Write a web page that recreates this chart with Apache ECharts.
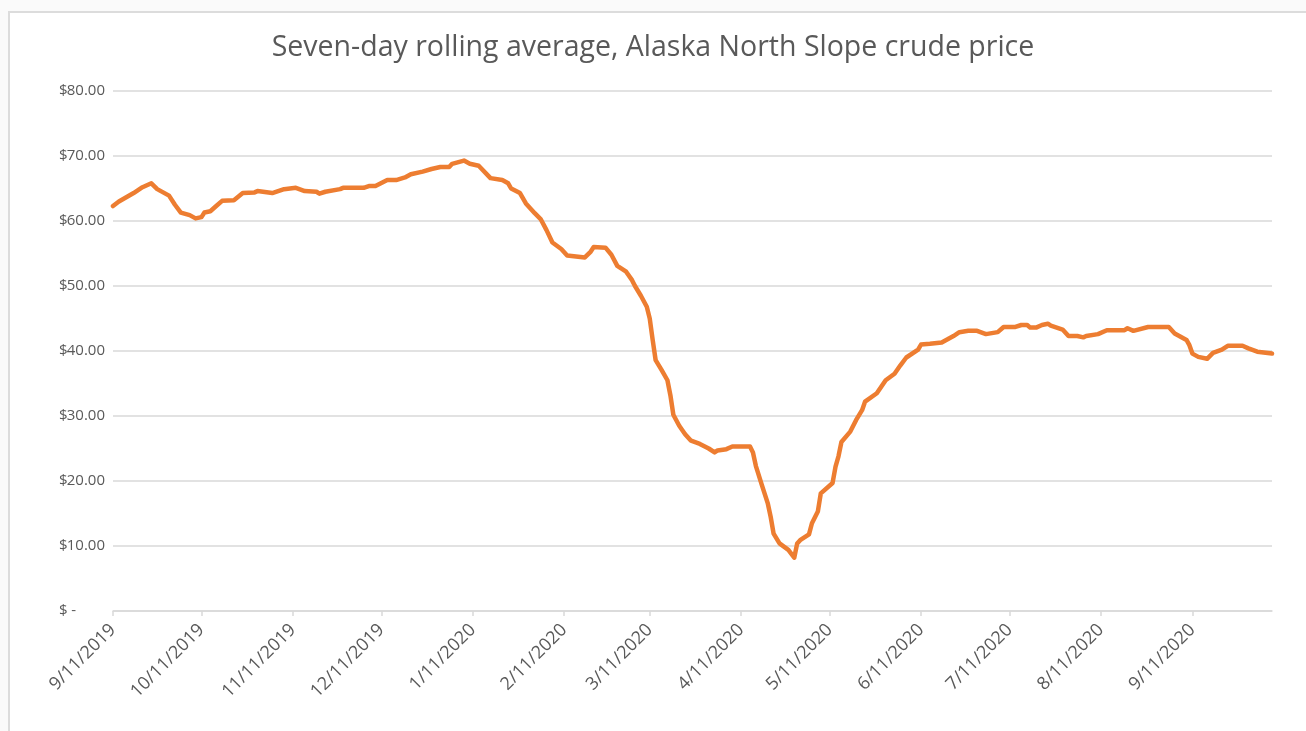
<!DOCTYPE html>
<html>
<head>
<meta charset="utf-8">
<script src="https://cdn.jsdelivr.net/npm/echarts@6/dist/echarts.min.js"></script>
<style>
  html, body { margin: 0; padding: 0; background: #fafafa; }
  #frame { position: absolute; left: 8px; top: 11px; width: 1310px; height: 730px;
           background: #ffffff; border-left: 2px solid #dcdcdc; border-top: 2px solid #dcdcdc; }
  #chart { position: absolute; left: 0; top: 0; width: 1306px; height: 731px; }
</style>
</head>
<body>
<div id="frame"></div>
<div id="chart"></div>
<script>
// Seven-day rolling average, Alaska North Slope crude price
const dates = [
  '2019-09-11','2019-09-13','2019-09-18','2019-09-21','2019-09-24','2019-09-26','2019-09-30',
  '2019-10-02','2019-10-04','2019-10-07','2019-10-09','2019-10-11','2019-10-12','2019-10-14',
  '2019-10-16','2019-10-18','2019-10-22','2019-10-25','2019-10-29','2019-10-30',
  '2019-11-04','2019-11-08','2019-11-12','2019-11-15','2019-11-19','2019-11-20','2019-11-22',
  '2019-11-27','2019-11-28',
  '2019-12-05','2019-12-07','2019-12-09','2019-12-13','2019-12-16','2019-12-19','2019-12-21',
  '2019-12-25','2019-12-28','2019-12-31',
  '2020-01-03','2020-01-04','2020-01-08','2020-01-10','2020-01-13','2020-01-17','2020-01-21',
  '2020-01-23','2020-01-24','2020-01-27','2020-01-29',
  '2020-02-01','2020-02-03','2020-02-05','2020-02-07','2020-02-10','2020-02-12','2020-02-18',
  '2020-02-20','2020-02-21','2020-02-25','2020-02-27','2020-02-29',
  '2020-03-03','2020-03-05','2020-03-06','2020-03-08','2020-03-10','2020-03-11','2020-03-12',
  '2020-03-13','2020-03-15','2020-03-17','2020-03-18','2020-03-19','2020-03-21','2020-03-23',
  '2020-03-25','2020-03-28','2020-03-31',
  '2020-04-02','2020-04-03','2020-04-06','2020-04-08','2020-04-14','2020-04-15','2020-04-16',
  '2020-04-18','2020-04-20','2020-04-21','2020-04-22','2020-04-24','2020-04-27','2020-04-29',
  '2020-04-30',
  '2020-05-01','2020-05-04','2020-05-05','2020-05-07','2020-05-08','2020-05-12','2020-05-13',
  '2020-05-14','2020-05-15','2020-05-18','2020-05-20','2020-05-22','2020-05-23','2020-05-27',
  '2020-05-30',
  '2020-06-02','2020-06-04','2020-06-06','2020-06-10','2020-06-11','2020-06-14','2020-06-18',
  '2020-06-22','2020-06-24','2020-06-27','2020-06-30',
  '2020-07-03','2020-07-07','2020-07-09','2020-07-13','2020-07-15','2020-07-17','2020-07-18',
  '2020-07-20','2020-07-22','2020-07-24','2020-07-25','2020-07-29','2020-07-31',
  '2020-08-03','2020-08-05','2020-08-06','2020-08-10','2020-08-13','2020-08-19','2020-08-20',
  '2020-08-22','2020-08-27',
  '2020-09-03','2020-09-05','2020-09-09','2020-09-10','2020-09-11','2020-09-13','2020-09-16',
  '2020-09-18','2020-09-21','2020-09-23','2020-09-28','2020-09-30',
  '2020-10-03','2020-10-08'
];
const prices = [
  62.3, 63.0, 64.3, 65.2, 65.8, 64.9, 63.9,
  62.5, 61.3, 60.9, 60.4, 60.6, 61.3, 61.5,
  62.3, 63.1, 63.2, 64.3, 64.4, 64.6,
  64.3, 64.9, 65.1, 64.6, 64.5, 64.2, 64.5,
  64.9, 65.1,
  65.1, 65.4, 65.4, 66.3, 66.3, 66.7, 67.2,
  67.6, 68.0, 68.3,
  68.3, 68.8, 69.3, 68.8, 68.5, 66.6, 66.3,
  65.8, 65.0, 64.3, 62.7,
  61.2, 60.3, 58.6, 56.7, 55.7, 54.7, 54.4,
  55.3, 56.0, 55.9, 54.8, 53.1,
  52.2, 50.9, 50.0, 48.5, 46.8, 45.0, 41.7,
  38.6, 37.1, 35.5, 33.2, 30.2, 28.5, 27.2,
  26.2, 25.7, 25.0,
  24.4, 24.7, 24.9, 25.3, 25.3, 24.4, 22.3,
  19.4, 16.6, 14.5, 11.9, 10.4, 9.4, 8.2,
  10.4,
  10.9, 11.8, 13.5, 15.3, 18.1, 19.7, 22.2,
  23.8, 26.0, 27.6, 29.4, 30.9, 32.2, 33.5,
  35.5,
  36.5, 37.8, 39.0, 40.2, 41.0, 41.1, 41.3,
  42.3, 42.9, 43.1, 43.1,
  42.6, 42.9, 43.7, 43.7, 44.0, 44.0, 43.6,
  43.6, 44.0, 44.2, 43.9, 43.3, 42.3,
  42.3, 42.1, 42.3, 42.6, 43.2, 43.2, 43.5,
  43.1, 43.7,
  43.7, 42.7, 41.7, 40.9, 39.6, 39.1, 38.8,
  39.7, 40.2, 40.8, 40.8, 40.4,
  39.9, 39.6
];
// Tick labels: the 11th of each month
const tickDates = [
  '2019-09-11','2019-10-11','2019-11-11','2019-12-11','2020-01-11','2020-02-11','2020-03-11',
  '2020-04-11','2020-05-11','2020-06-11','2020-07-11','2020-08-11','2020-09-11'
];
const axisStart = '2019-09-11';
const axisEnd = '2020-10-08';
const titleText = 'Seven-day rolling average, Alaska North Slope crude price';

function toTime(s) {
  const p = s.split('-').map(Number);
  return new Date(p[0], p[1] - 1, p[2]).getTime();
}
const tickTimes = tickDates.map(toTime);
const seriesData = dates.map((d, i) => [toTime(d), prices[i]]);

const chart = echarts.init(document.getElementById('chart'), null, { renderer: 'canvas' });
const textColor = '#595959';
const gridColor = '#d9d9d9';
chart.setOption({
  backgroundColor: 'transparent',
  animation: false,
  title: {
    text: titleText,
    left: 'center',
    top: 28,
    textStyle: { color: textColor, fontSize: 28.5, fontWeight: 'normal', fontFamily: 'Open Sans' }
  },
  grid: { left: 113, right: 34, top: 91, bottom: 120, containLabel: false },
  xAxis: {
    type: 'value',
    min: toTime(axisStart),
    max: toTime(axisEnd),
    splitLine: { show: false },
    axisLine: { show: true, onZero: false, lineStyle: { color: gridColor, width: 1.5 } },
    axisTick: { show: true, customValues: tickTimes, length: 5, lineStyle: { color: gridColor, width: 1.5 } },
    minorTick: { show: false },
    axisLabel: {
      customValues: tickTimes,
      rotate: 45,
      margin: 16,
      color: textColor,
      fontSize: 18,
      fontFamily: 'Open Sans',
      showMinLabel: true,
      showMaxLabel: true,
      formatter: function (v) {
        const d = new Date(v);
        return (d.getMonth() + 1) + '/' + d.getDate() + '/' + d.getFullYear();
      }
    }
  },
  yAxis: {
    type: 'value',
    min: 0,
    max: 80,
    interval: 10,
    axisLine: { show: false },
    axisTick: { show: false },
    splitLine: { lineStyle: { color: gridColor, width: 1.5 } },
    axisLabel: {
      margin: 8,
      color: textColor,
      fontSize: 15,
      fontFamily: 'Open Sans',
      formatter: function (v) {
        if (v === 0) return '{c|$}{z|-}{p|}';
        return '{c|$}{n|' + v.toFixed(2) + '}';
      },
      rich: {
        c: { width: 10, align: 'left', color: textColor, fontSize: 15, fontFamily: 'Open Sans' },
        n: { width: 36, align: 'right', color: textColor, fontSize: 15, fontFamily: 'Open Sans' },
        z: { width: 7, align: 'right', color: textColor, fontSize: 15, fontFamily: 'Open Sans' },
        p: { width: 29 }
      }
    }
  },
  series: [{
    type: 'line',
    data: seriesData,
    showSymbol: false,
    smooth: false,
    lineStyle: { color: '#ED7D31', width: 4.5, cap: 'round', join: 'round' },
    itemStyle: { color: '#ED7D31' }
  }]
});
</script>
</body>
</html>
